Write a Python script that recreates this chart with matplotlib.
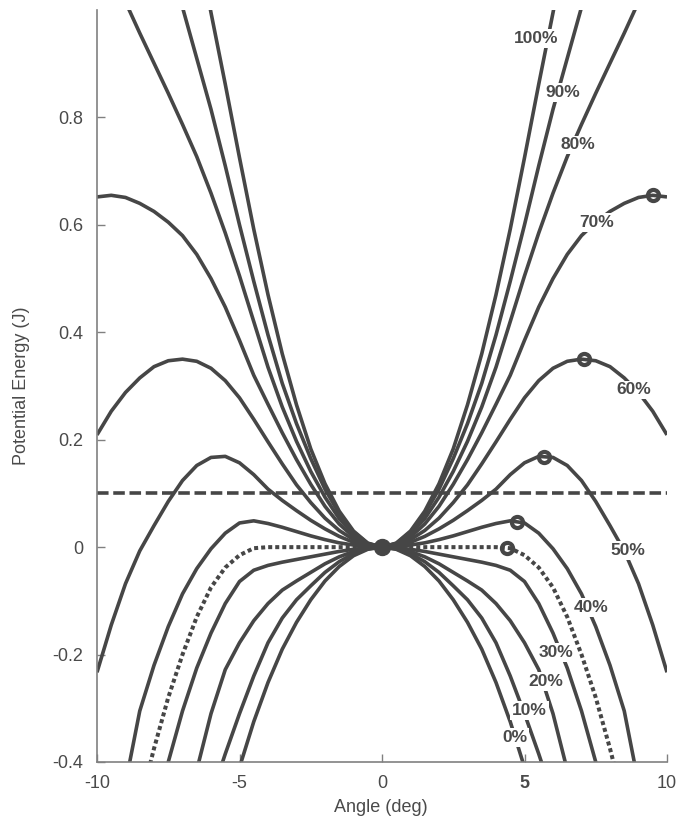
import numpy as np
import matplotlib
matplotlib.use("Agg")
import matplotlib.pyplot as plt

plt.rcParams['font.family'] = ['Liberation Sans', 'DejaVu Sans']
plt.rcParams['axes.unicode_minus'] = False

# ---- data (right half, curves are symmetric about 0 deg) ----
angle_half = [0, 0.5, 1, 1.5, 2, 2.5, 3, 3.5, 4, 4.5, 5, 5.5, 6, 6.5, 7, 7.5, 8, 8.5, 9, 9.5, 10]
nan = float('nan')

pe_0 = [0, -0.004, -0.016, -0.036, -0.063, -0.098, -0.14, -0.19, -0.252, -0.325, -0.41, -0.51,
        nan, nan, nan, nan, nan, nan, nan, nan, nan]
pe_10 = [0, -0.003, -0.012, -0.027, -0.047, -0.072, -0.098, -0.132, -0.178, -0.24, -0.31, -0.385,
         -0.465, nan, nan, nan, nan, nan, nan, nan, nan]
pe_20 = [0, -0.002, -0.008, -0.018, -0.031, -0.047, -0.063, -0.08, -0.105, -0.137, -0.178, -0.228,
         -0.31, -0.415, nan, nan, nan, nan, nan, nan, nan]
pe_30 = [0, -0.001, -0.004, -0.008, -0.013, -0.018, -0.023, -0.028, -0.034, -0.043, -0.064, -0.105,
         -0.16, -0.225, -0.305, -0.4, -0.51, nan, nan, nan, nan]
pe_crit = [0, 0, 0, 0, 0, 0, 0, 0, 0, -0.002, -0.015, -0.038,
           -0.075, -0.13, -0.2, -0.28, -0.375, -0.48, nan, nan, nan]
pe_40 = [0, 0.001, 0.004, 0.008, 0.014, 0.021, 0.029, 0.037, 0.044, 0.049, 0.045, 0.026,
         -0.003, -0.04, -0.087, -0.148, -0.22, -0.305, -0.44, nan, nan]
pe_50 = [0, 0.002, 0.009, 0.02, 0.034, 0.05, 0.068, 0.087, 0.108, 0.135, 0.157, 0.169,
         0.167, 0.152, 0.124, 0.085, 0.04, -0.007, -0.068, -0.145, -0.233]
pe_60 = [0, 0.004, 0.014, 0.031, 0.054, 0.083, 0.116, 0.155, 0.196, 0.238, 0.278, 0.31,
         0.333, 0.346, 0.35, 0.347, 0.336, 0.315, 0.288, 0.253, 0.209]
pe_70 = [0, 0.005, 0.019, 0.043, 0.076, 0.117, 0.163, 0.213, 0.266, 0.32, 0.385, 0.447,
         0.5, 0.545, 0.58, 0.605, 0.625, 0.64, 0.651, 0.655, 0.652]
pe_80 = [0, 0.006, 0.024, 0.053, 0.093, 0.141, 0.197, 0.261, 0.335, 0.42, 0.505, 0.585,
         0.659, 0.727, 0.787, 0.845, 0.901, 0.957, 1.015, nan, nan]
pe_90 = [0, 0.007, 0.028, 0.062, 0.108, 0.165, 0.23, 0.305, 0.395, 0.495, 0.6, 0.71,
         0.815, 0.91, 1.005, 1.1, nan, nan, nan, nan, nan]
pe_100 = [0, 0.0075, 0.03, 0.067, 0.118, 0.183, 0.265, 0.36, 0.47, 0.592, 0.725, 0.862,
          0.995, 1.13, nan, nan, nan, nan, nan, nan, nan]

curve_names = ['0%', '10%', '20%', '30%', '', '40%', '50%', '60%', '70%', '80%', '90%', '100%']
curve_values = [pe_0, pe_10, pe_20, pe_30, pe_crit, pe_40, pe_50, pe_60, pe_70, pe_80, pe_90, pe_100]

# positions of inline labels (angle, energy)
label_pos = {'0%': (4.66, -0.354), '10%': (5.18, -0.304), '20%': (5.75, -0.25),
             '30%': (6.1, -0.196), '40%': (7.33, -0.112), '50%': (8.63, -0.006),
             '60%': (8.84, 0.293), '70%': (7.54, 0.604), '80%': (6.87, 0.749),
             '90%': (6.34, 0.846), '100%': (5.40, 0.947)}

# peak markers: (curve index, angle)
peak_markers = [(4, 4.4), (5, 4.75), (6, 5.7), (7, 7.1), (8, 9.5)]

energy_level = 0.1

x_ticks = [-10, -5, 0, 5, 10]
x_ticklabels = ['-10', '-5', '0', '5', '10']
y_ticks = [-0.4, -0.2, 0, 0.2, 0.4, 0.6, 0.8]
y_ticklabels = ['-0.4', '-0.2', '0', '0.2', '0.4', '0.6', '0.8']

# ---- figure ----
W, H = 686, 824
fig = plt.figure(figsize=(W / 100, H / 100), dpi=100)
ax = fig.add_axes([97 / W, 1 - 762 / H, (667 - 97) / W, (762 - 10) / H])

line_c = '#464646'
text_c = '#4a4a4a'
lw = 2.6

a_half = np.array(angle_half)
a_full = np.concatenate([-a_half[::-1], a_half[1:]])

def full(vals):
    v = np.array(vals, dtype=float)
    return np.concatenate([v[::-1], v[1:]])

for name, vals in zip(curve_names, curve_values):
    y = full(vals)
    if name == '':
        ax.plot(a_full, y, color=line_c, lw=2.9, linestyle=(0, (1.0, 0.75)),
                dash_capstyle='butt', zorder=2)
    else:
        ax.plot(a_full, y, color=line_c, lw=lw, solid_capstyle='butt',
                solid_joinstyle='round', zorder=2)

ax.axhline(energy_level, color=line_c, lw=lw, linestyle=(0, (3.2, 1.3)), zorder=2)

# markers
ax.plot([angle_half[0]], [pe_50[0]], 'o', ms=11.5, color=line_c, zorder=3)
for idx, ang in peak_markers:
    v = np.array(curve_values[idx], dtype=float)
    ok = ~np.isnan(v)
    yv = np.interp(ang, a_half[ok], v[ok])
    ax.plot([ang], [yv], 'o', ms=8, mfc='none', mec=line_c, mew=3, zorder=3)

for name in curve_names:
    if not name:
        continue
    x, y = label_pos[name]
    ax.text(x, y, name, ha='center', va='center', fontsize=12.5, fontweight='bold',
            color=text_c, zorder=4,
            bbox=dict(boxstyle='square,pad=0.1', fc='white', ec='none'))

ax.set_xlim(-10, 10)
ax.set_ylim(-0.4, 1.0)
for s in ['top', 'right']:
    ax.spines[s].set_visible(False)
for s in ['left', 'bottom']:
    ax.spines[s].set_color('#808080')
    ax.spines[s].set_linewidth(1.2)

ax.set_xticks(x_ticks)
ax.set_xticklabels(x_ticklabels)
ax.set_yticks(y_ticks)
ax.set_yticklabels(y_ticklabels)
ax.tick_params(direction='in', length=6, width=1, color='#808080',
               labelsize=13, labelcolor=text_c)
ax.tick_params(axis='x', pad=9)
ax.tick_params(axis='y', pad=10)
for t in ax.get_xticklabels():
    if t.get_text() == '5':
        t.set_fontweight('bold')

fig.text(22 / W, 1 - 386 / H, 'Potential Energy (J)', rotation=90, ha='center', va='center',
         fontsize=13, color=text_c)
fig.text(381 / W, 1 - 807 / H, 'Angle (deg)', ha='center', va='center',
         fontsize=13, color=text_c)

fig.savefig('out.png', dpi=100)
